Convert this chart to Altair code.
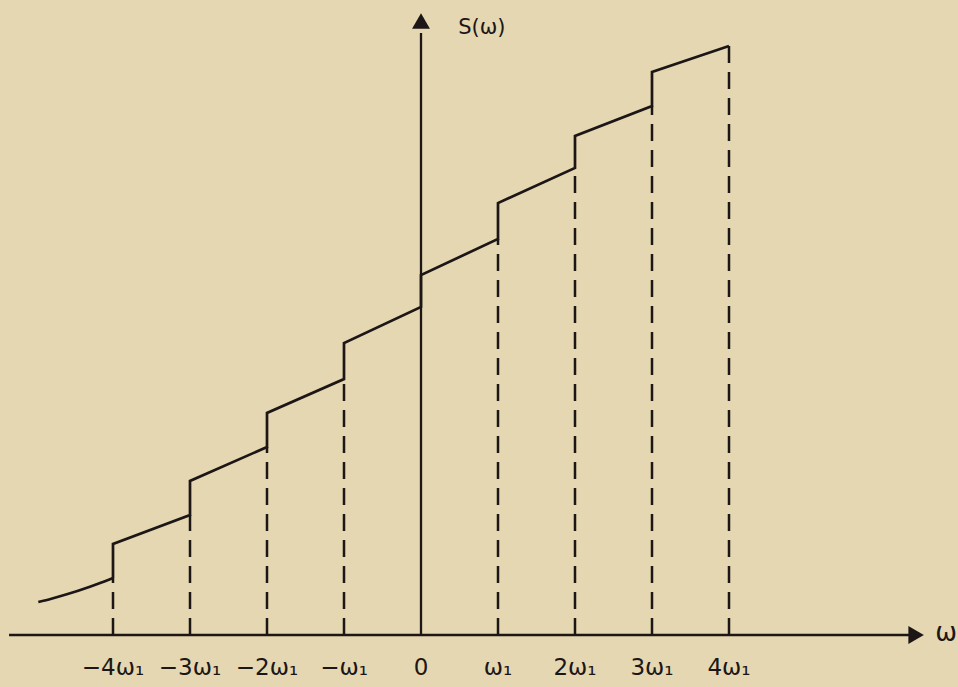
import altair as alt
import pandas as pd

# ---- data (x in units of omega_1, S in arbitrary units) ----
curve_start_x = [-4.97, -4.8, -4.6, -4.3, -4.15, -4.0]
curve_start_s = [3.3, 3.63, 4.07, 4.83, 5.25, 5.7]
step_x = [-4, -3, -2, -1, 0, 1, 2, 3]
step_low = [5.7, 12.0, 18.8, 25.6, 32.8, 39.6, 46.7, 52.9]
step_high = [9.1, 15.4, 22.2, 29.2, 36.0, 43.2, 49.9, 56.3]
end_x = 4
end_s = 58.9
tick_vals = [-4, -3, -2, -1, 0, 1, 2, 3, 4]
tick_labels = ["−4ω₁", "−3ω₁", "−2ω₁", "−ω₁", "0", "ω₁", "2ω₁", "3ω₁", "4ω₁"]

INK = "#1c1616"
BG = "#e5d7b1"
FONT = "DejaVu Sans"

# initial smooth piece
curve_df = pd.DataFrame({"x": curve_start_x, "s": curve_start_s, "o": list(range(len(curve_start_x)))})

# staircase line
pts = []
for x, lo, hi in zip(step_x, step_low, step_high):
    pts.append((x, lo))
    pts.append((x, hi))
pts.append((end_x, end_s))
line_df = pd.DataFrame({"x": [p[0] for p in pts], "s": [p[1] for p in pts], "o": list(range(len(pts)))})

# dashed verticals
dash_x = [x for x in step_x if x != 0] + [end_x]
dash_top = [lo for x, lo in zip(step_x, step_low) if x != 0] + [end_s]
dash_df = pd.DataFrame({"x": dash_x, "y0": [0] * len(dash_x), "y1": dash_top})

xs = alt.Scale(domain=[-421 / 77, 537 / 77], nice=False, zero=False)
ys = alt.Scale(domain=[-5.2, 63.5], nice=False, zero=False)

X = lambda f: alt.X(f, type="quantitative", scale=xs, axis=None)
Y = lambda f: alt.Y(f, type="quantitative", scale=ys, axis=None)

curve = alt.Chart(curve_df).mark_line(color=INK, strokeWidth=2.7, interpolate="monotone").encode(
    x=X("x"), y=Y("s"), order="o:Q"
)

stair = alt.Chart(line_df).mark_line(color=INK, strokeWidth=2.7, strokeJoin="miter").encode(
    x=X("x"), y=Y("s"), order="o:Q"
)

dashes = alt.Chart(dash_df).mark_rule(color=INK, strokeWidth=2.5, strokeDash=[17, 9]).encode(
    x=X("x"), y=Y("y0"), y2="y1"
)

haxis_df = pd.DataFrame({"x0": [-5.35], "x1": [6.36], "y": [0]})
haxis = alt.Chart(haxis_df).mark_rule(color=INK, strokeWidth=2.3).encode(
    x=X("x0"), x2="x1", y=Y("y")
)
vaxis_df = pd.DataFrame({"x": [0], "y0": [0], "y1": [60.2]})
vaxis = alt.Chart(vaxis_df).mark_rule(color=INK, strokeWidth=2.3).encode(
    x=X("x"), y=Y("y0"), y2="y1"
)

harrow = alt.Chart(pd.DataFrame({"x": [6.43], "y": [0]})).mark_point(
    shape="triangle-right", filled=True, color=INK, opacity=1, size=320
).encode(x=X("x"), y=Y("y"))
varrow = alt.Chart(pd.DataFrame({"x": [0], "y": [61.4]})).mark_point(
    shape="triangle-up", filled=True, color=INK, opacity=1, size=320
).encode(x=X("x"), y=Y("y"))

labels_df = pd.DataFrame({"x": tick_vals, "t": tick_labels, "y": [-3.3] * len(tick_vals)})
labels = alt.Chart(labels_df).mark_text(
    font=FONT, fontSize=23, color=INK, baseline="middle", align="center"
).encode(x=X("x"), y=Y("y"), text="t:N")

omega = alt.Chart(pd.DataFrame({"x": [6.82], "y": [0.2], "t": ["ω"]})).mark_text(
    font=FONT, fontSize=26, color=INK, baseline="middle", align="center"
).encode(x=X("x"), y=Y("y"), text="t:N")

sw = alt.Chart(pd.DataFrame({"x": [0.79], "y": [60.7], "t": ["S(ω)"]})).mark_text(
    font=FONT, fontSize=21, color=INK, baseline="middle", align="center"
).encode(x=X("x"), y=Y("y"), text="t:N")

chart = alt.layer(dashes, haxis, vaxis, curve, stair, harrow, varrow, labels, omega, sw).properties(
    width=958, height=687, background=BG, padding=0, autosize=alt.AutoSizeParams(type="none")
).configure_view(stroke=None)

chart.save("out.html", embed_options={"renderer": "svg", "actions": False})
